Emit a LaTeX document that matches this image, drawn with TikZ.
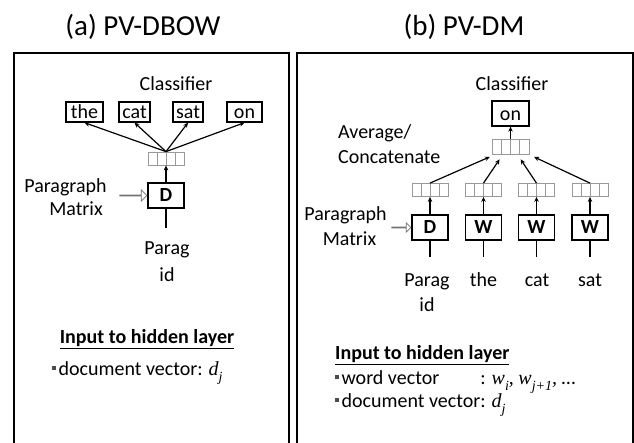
\documentclass[tikz,border=0pt]{standalone}
\usepackage{fontspec}
\usepackage{calc}
\setmainfont{Carlito}
\newfontfamily\mfont{Liberation Serif}
\usetikzlibrary{arrows.meta,shapes.arrows,calc}
\newcommand{\lbl}{\fontsize{20}{27}\selectfont}
\newcommand{\ttl}{\fontsize{29}{34}\selectfont}
\newcommand{\blt}{\textcolor{black!70}{\rule[0.3em]{0.17em}{0.17em}}\hspace{0.15em}}
\newcommand{\mv}[2]{{\mfont\itshape #1\raisebox{-0.28em}{\fontsize{14}{14}\selectfont #2}}}
\begin{document}
\begin{tikzpicture}[x=1pt,y={(0pt,-1pt)},
  frame/.style={draw,line width=1.5pt},
  txt/.style={font=\lbl,inner sep=0pt},
  wordbox/.style={draw,line width=1.3pt,font=\lbl,inner xsep=0pt,inner ysep=1pt,text height=15pt,text depth=3pt,minimum height=20pt},
  matbox/.style={draw,line width=1.4pt,font=\lbl\bfseries,inner sep=0pt,minimum width=36pt,minimum height=25pt},
  vec/.style={draw=black!40,line width=0.8pt,minimum width=36pt,minimum height=13pt,inner sep=0pt,
    path picture={\foreach \i in {0.25,0.5,0.75}
      \draw[black!40,line width=0.8pt] ($(path picture bounding box.south west)!\i!(path picture bounding box.south east)$) -- ($(path picture bounding box.north west)!\i!(path picture bounding box.north east)$);}},
  arr/.style={line width=1.2pt,-{Stealth[length=5pt,width=4.5pt]}},
  plain/.style={line width=1.3pt},
  hollow/.style={single arrow,draw=black!55,fill=white,line width=0.7pt,anchor=tip,minimum height=27pt,minimum width=11pt,single arrow head extend=3pt,single arrow head indent=0pt,inner sep=0pt,shape border rotate=0}
]
\useasboundingbox (0,0) rectangle (634,442);
\clip (0,0) rectangle (634,442);
\fill[white] (0,0) rectangle (634,442);

% titles
\node[font=\ttl,inner sep=0pt] (ta) at (143,27) {(a) PV-DBOW};
\node[font=\ttl,inner sep=0pt] (tb) at (464,27) {(b) PV-DM};

% frames
\draw[frame] (14,53) rectangle (289,470);
\draw[frame] (297,53) rectangle (633,470);

% ---------- left panel ----------
\node[txt] (clsa) at (176,84) {Classifier};
\node[wordbox,minimum width=37pt] (the) at (84.5,112) {the};
\node[wordbox,minimum width=31pt] (cat) at (134.5,112) {cat};
\node[wordbox,minimum width=30pt] (sat) at (188,112) {sat};
\node[wordbox,minimum width=35pt] (on) at (244.5,112) {on};
\node[vec] (va) at (166,158.5) {};
\node[matbox] (Da) at (166,195.5) {D};
\coordinate (Dain) at (166,228);
\draw[plain] (Da.south) -- (Dain);
\draw[arr] (Da.north) -- (va.south);
\foreach \b in {the,cat,sat,on} \draw[arr] (va.north) -- (\b.south);
\node[txt] (pma1) at (65.5,187) {Paragraph};
\node[txt] (pma2) at (76,209) {Matrix};
\node[hollow] (ha) at (Da.west) {};
\node[txt,align=center] (pida) at (167,262) {Parag\\id};
\node[txt,font=\lbl\bfseries] (inpa) at (147,339) {\underline{Input to hidden layer}};
\node[txt,anchor=west] (doca) at (52,373) {\blt document vector: \mv{d}{j}};

% ---------- right panel ----------
\node[txt] (clsb) at (512,84) {Classifier};
\node[wordbox,minimum width=37pt,minimum height=25pt,text height=17pt,text depth=4pt,inner ysep=2pt] (onb) at (510.5,113.5) {on};
\node[vec,minimum width=37pt,minimum height=15pt] (ub) at (510.5,146.5) {};
\draw[arr] (ub.north) -- (onb.south);
\foreach \n/\x/\t in {1/430/D,2/483.5/W,3/536.5/W,4/590/W}{
  \node[vec] (lv\n) at (\x,190) {};
  \node[matbox] (M\n) at (\x,227.5) {\t};
  \coordinate (in\n) at (\x,257);
  \draw[plain] (M\n.south) -- (in\n);
  \draw[arr] (M\n.north) -- (lv\n.south);
}
\draw[arr,shorten >=6pt] (lv1.north) -- ($(ub.south west)!0.1!(ub.south east)$);
\draw[arr,shorten >=6pt] (lv2.north) -- ($(ub.south west)!0.3!(ub.south east)$);
\draw[arr,shorten >=6pt] (lv3.north) -- ($(ub.south west)!0.68!(ub.south east)$);
\draw[arr,shorten >=6pt] (lv4.north) -- ($(ub.south west)!0.98!(ub.south east)$);
\node[txt,anchor=west] (avg1) at (338,133) {Average/};
\node[txt,anchor=west] (avg2) at (338,157) {Concatenate};
\node[txt] (pmb1) at (345.5,215) {Paragraph};
\node[txt] (pmb2) at (349.5,239) {Matrix};
\node[hollow,minimum height=19pt,minimum width=9pt] (hb) at (M1.west) {};
\node[txt,align=center,font=\fontsize{20}{25}\selectfont] (pidb) at (427,292.5) {Parag\\id};
\node[txt] (wthe) at (483.5,280) {the};
\node[txt] (wcat) at (537,280) {cat};
\node[txt] (wsat) at (590,280) {sat};
\node[txt,font=\lbl\bfseries,anchor=west] (inpb) at (335,355) {\underline{Input to hidden layer}};
\node[txt,anchor=west] (wvec) at (335,382) {\blt\makebox[\widthof{document vector}][l]{word vector}: \mv{w}{i}{\mfont\itshape ,} \mv{w}{j+1}{\mfont\itshape ,} \ldots};
\node[txt,anchor=west] (docb) at (335,405) {\blt document vector: \mv{d}{j}};
\end{tikzpicture}
\end{document}
